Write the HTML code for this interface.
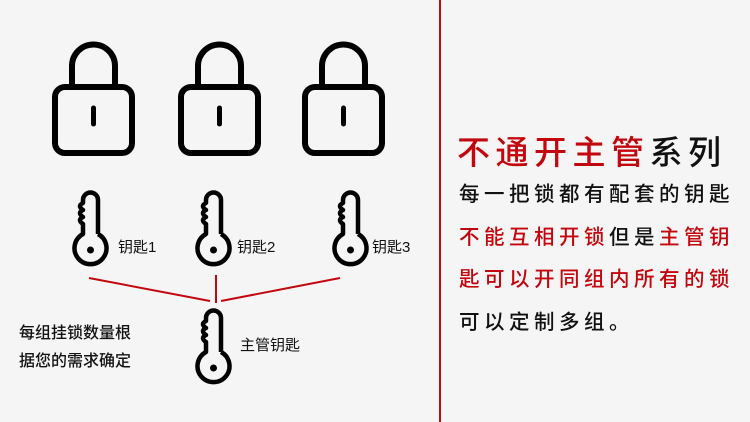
<!DOCTYPE html>
<html><head><meta charset="utf-8"><style>
body{margin:0;width:750px;height:422px;background:#f5f5f5;overflow:hidden;position:relative;font-family:"Liberation Sans","Noto Sans CJK SC",sans-serif;}
.t{position:absolute;white-space:nowrap;color:#111;}
.r{color:#c3070e;}
</style></head><body>
<svg width="750" height="422" style="position:absolute;left:0;top:0">
<defs>
<g id="lock" fill="none" stroke="#000" stroke-width="6" stroke-linecap="round">
<path d="M72,87 L72,66 A21.5,21.5 0 0 1 115,66 L115,87"/>
<rect x="55" y="87" width="77" height="66" rx="10"/>
<line x1="93.5" y1="108" x2="93.5" y2="124" stroke-width="5"/>
</g>
<g id="key">
<path d="M25,44 L25,10 A7.5,7.5 0 0 0 10,10 L10,13 q-6,3 0,7 q-6,3 0,7 q-6,3 0,7 L10,44 A16,16 0 1 0 25,44" fill="none" stroke="#000" stroke-width="4.5" stroke-linejoin="round"/>
<circle cx="17.5" cy="60" r="3.5" fill="#000"/>
</g>
</defs>
<use href="#lock"/>
<use href="#lock" x="126"/>
<use href="#lock" x="250"/>
<use href="#key" x="73" y="190"/>
<use href="#key" x="196" y="190"/>
<use href="#key" x="333" y="190"/>
<use href="#key" x="196" y="308"/>
<g stroke="#c3070e" stroke-width="2">
<line x1="89" y1="278" x2="210" y2="301"/>
<line x1="216" y1="275" x2="216" y2="303"/>
<line x1="221" y1="301" x2="340" y2="278"/>
</g>
<line x1="440" y1="0" x2="440" y2="422" stroke="#c3070e" stroke-width="2"/>
</svg>
<div class="t" style="left:118px;top:236px;font-size:15px">钥匙1</div>
<div class="t" style="left:237px;top:236px;font-size:15px">钥匙2</div>
<div class="t" style="left:372px;top:236px;font-size:15px">钥匙3</div>
<div class="t" style="left:240px;top:334px;font-size:15px">主管钥匙</div>
<div class="t" style="left:19px;top:320px;font-size:16px;line-height:28px;font-weight:500">每组挂锁数量根<br>据您的需求确定</div>
<div class="t" style="left:457px;top:126px;font-size:33px;letter-spacing:5.5px;font-weight:500"><span class="r">不通开主管</span>系列</div>
<div class="t" style="left:459px;top:174px;font-size:20.5px;letter-spacing:4.5px;line-height:42.5px;font-weight:500">每一把锁都有配套的钥匙<br><span class="r">不能互相开锁</span>但是<span class="r">主管钥</span><br><span class="r">匙可以开同组内所有的锁</span><br>可以定制多组。</div>
</body></html>
